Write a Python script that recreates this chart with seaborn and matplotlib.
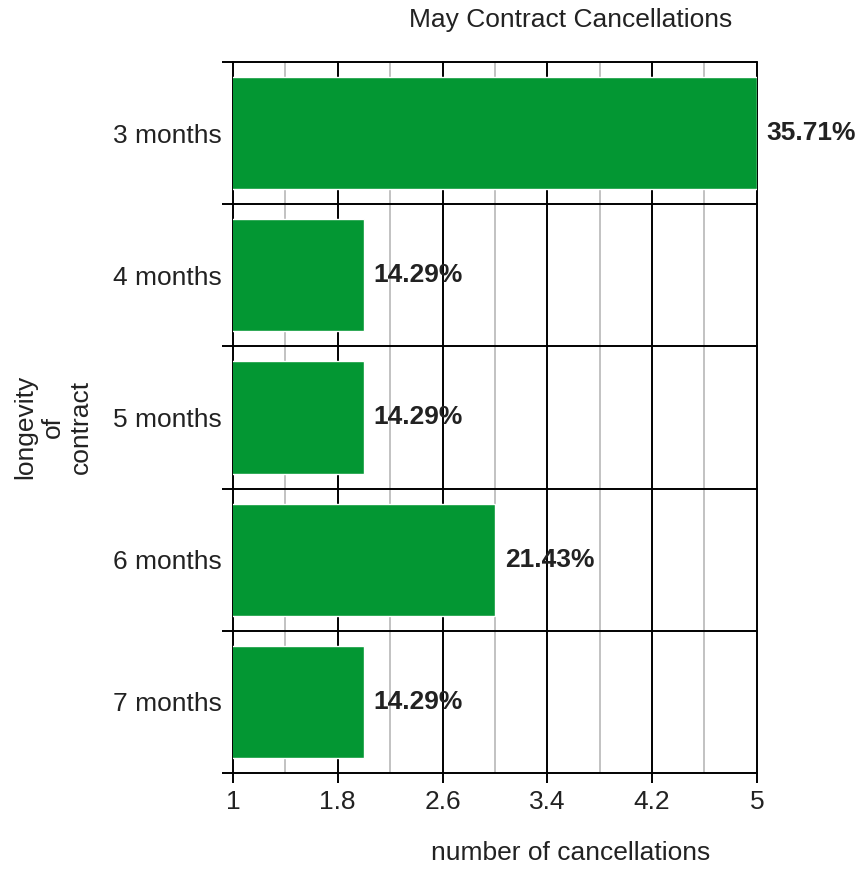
import matplotlib
matplotlib.use("Agg")
import matplotlib.pyplot as plt
import seaborn as sns
import pandas as pd
import numpy as np

categories = ["3 months", "4 months", "5 months", "6 months", "7 months"]
cancellations = [5, 2, 2, 3, 2]
percent_labels = ["35.71%", "14.29%", "14.29%", "21.43%", "14.29%"]
x_ticks = [1, 1.8, 2.6, 3.4, 4.2, 5]
x_tick_labels = ["1", "1.8", "2.6", "3.4", "4.2", "5"]

sns.set_style("white")
plt.rcParams["font.family"] = ["Liberation Sans", "DejaVu Sans"]

FS = 19
TXT = "#222222"

df = pd.DataFrame({"longevity": categories, "count": cancellations})

fig = plt.figure(figsize=(8.66, 8.77), dpi=100)
ax = fig.add_axes([0.269, 0.1186, 0.605, 0.8107])

sns.barplot(data=df, y="longevity", x="count", orient="h", color="#039733",
            saturation=1, width=0.79, ax=ax, zorder=3)

ax.set_xlim(1, 5)
ax.set_ylim(len(categories) - 0.5, -0.5)

# major (black) and minor (gray) vertical gridlines
for xv in x_ticks:
    ax.axvline(xv, color="black", lw=1.4, zorder=1, clip_on=False)
for a, b in zip(x_ticks[:-1], x_ticks[1:]):
    ax.axvline((a + b) / 2, color="#bdbdbd", lw=1.3, zorder=1)

# horizontal separators between categories
bounds = np.arange(-0.5, len(categories), 1.0)
for yb in bounds:
    ax.axhline(yb, color="black", lw=1.4, zorder=4, clip_on=False)

for s in ax.spines.values():
    s.set_visible(False)

ax.set_xticks(x_ticks)
ax.set_xticklabels(x_tick_labels, fontsize=FS, color=TXT)
ax.tick_params(axis="x", which="major", bottom=True, length=7.5, width=1.4,
               direction="out", color="black", pad=5)

ax.set_yticks(range(len(categories)))
ax.set_yticklabels(categories, fontsize=FS, color=TXT)
ax.tick_params(axis="y", which="major", left=True, length=0, pad=8)
ax.set_yticks(bounds, minor=True)
ax.tick_params(axis="y", which="minor", left=True, length=8, width=1.4,
               color="black", direction="out")

ax.set_xlabel("")
ax.set_ylabel("")

for i, (v, lab) in enumerate(zip(cancellations, percent_labels)):
    ax.annotate(lab, xy=(v, i), xytext=(7, 0), textcoords="offset points",
                ha="left", va="center", fontsize=FS, fontweight="bold",
                color=TXT, zorder=5, annotation_clip=False)

fig.text(571 / 866, 1 - 20 / 877, "May Contract Cancellations", ha="center",
         va="center", fontsize=FS, color=TXT)
fig.text(571 / 866, 1 - 853 / 877, "number of cancellations", ha="center",
         va="center", fontsize=FS, color=TXT)
fig.text(53 / 866, 1 - 427 / 877, "longevity\nof\ncontract", ha="center",
         va="center", rotation=90, fontsize=FS, color=TXT,
         multialignment="center", linespacing=1.2)

fig.savefig("out.png", dpi=100)
